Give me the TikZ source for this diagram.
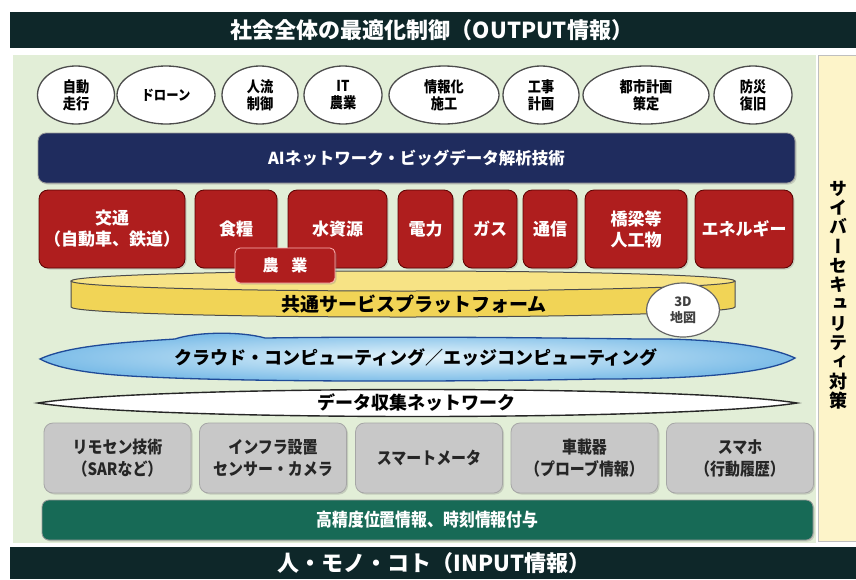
\documentclass[tikz,border=0pt]{standalone}
\usepackage{fontspec}
\setmainfont{Noto Sans CJK JP}
\newfontfamily\jpn{Noto Sans CJK JP}[FakeStretch=0.88]
\newfontfamily\jpv{Noto Sans CJK JP}[RawFeature=+vert]
\usetikzlibrary{shapes.geometric,shadows}
\definecolor{barc}{HTML}{0E2729}
\definecolor{panel}{HTML}{E2EED7}
\definecolor{cream}{HTML}{FDF4C9}
\definecolor{navy}{HTML}{1F2C5E}
\definecolor{redc}{HTML}{AF1E1E}
\definecolor{grayc}{HTML}{C8C8C8}
\definecolor{tealc}{HTML}{176A56}
\definecolor{yel}{HTML}{F1D456}
\definecolor{yeltop}{HTML}{F7E385}
\definecolor{cloudin}{HTML}{E4F4FB}
\definecolor{cloudout}{HTML}{7DBDE8}
\definecolor{cloudedge}{HTML}{1F4A98}
\tikzset{
  oval/.style={ellipse, draw=black!70, line width=1.3pt, fill=white, inner sep=0pt,
    font=\jpn\bfseries\fontsize{15}{17}\selectfont, align=center, minimum height=58pt},
  redbox/.style={rectangle, rounded corners=9pt, fill=redc, draw=red!35!black, line width=0.8pt,
    text=white, font=\bfseries\fontsize{17}{21}\selectfont, align=center,
    minimum height=78pt, inner sep=0pt,
    drop shadow={shadow xshift=1.5pt, shadow yshift=-1.5pt, opacity=0.3}},
  graybox/.style={rectangle, rounded corners=9pt, fill=grayc, draw=black!35, line width=0.8pt,
    text=black!85, font=\jpn\bfseries\fontsize{17}{22}\selectfont, align=center,
    minimum height=70pt, minimum width=147pt, inner sep=0pt,
    drop shadow={shadow xshift=1.5pt, shadow yshift=-1.5pt, opacity=0.3}},
  bartext/.style={text=white, font=\bfseries\fontsize{22}{24}\selectfont},
  plaintext/.style={text=black, font=\bfseries\fontsize{18}{20}\selectfont},
}
\begin{document}
\begin{tikzpicture}[x=1pt,y=-1pt]
\useasboundingbox (0,0) rectangle (856,579);
\fill[white] (0,0) rectangle (856,579);
% bars
\fill[barc] (10,12) rectangle (856,48);
\node[bartext] (top) at (432,30) {社会全体の最適化制御（OUTPUT情報）};
\fill[barc] (10,547) rectangle (856,579);
\node[bartext] (bottom) at (434,563) {人・モノ・コト（INPUT情報）};
% panels
\fill[panel] (13,55) rectangle (816,543);
\filldraw[fill=cream, draw=black!25] (818,55) rectangle (860,541);
\node[font=\jpv\bfseries\fontsize{18}{19.3}\selectfont, align=center, inner sep=0pt] (cyber) at (838,295)
  {サ\\イ\\バ\\ー\\セ\\キ\\ュ\\リ\\テ\\ィ\\対\\策};
% ovals
\node[oval, minimum width=77pt] (o1) at (76,95) {自動\\走行};
\node[oval, minimum width=98pt, font=\jpn\bfseries\fontsize{14}{15}\selectfont] (o2) at (166,95) {ドローン};
\node[oval, minimum width=76pt] (o3) at (260,95) {人流\\制御};
\node[oval, minimum width=78pt] (o4) at (343,95) {IT\\農業};
\node[oval, minimum width=110pt] (o5) at (444,95) {情報化\\施工};
\node[oval, minimum width=76pt] (o6) at (541,95) {工事\\計画};
\node[oval, minimum width=126pt] (o7) at (646,95) {都市計画\\策定};
\node[oval, minimum width=78pt] (o8) at (753,95) {防災\\復旧};
% AI bar
\node[rectangle, rounded corners=8pt, fill=navy, draw=black!40, line width=0.8pt,
  minimum width=757pt, minimum height=50pt, text=white,
  font=\bfseries\fontsize{16.5}{18}\selectfont,
  drop shadow={shadow xshift=1.5pt, shadow yshift=-1.5pt, opacity=0.3}] (ai) at (416.5,158)
  {AIネットワーク・ビッグデータ解析技術};
% cylinder
\fill[yel] (71,281) rectangle (735,307);
\fill[yel] (403,307) ellipse [x radius=332, y radius=10];
\draw[black!70, line width=1pt] (71,281) -- (71,307) arc[start angle=180, end angle=0, x radius=332, y radius=10] -- (735,281);
\filldraw[fill=yeltop, draw=black!70, line width=1pt] (403,281) ellipse [x radius=332, y radius=10];
\node[plaintext, font=\bfseries\fontsize{19}{21}\selectfont] (platform) at (414,304) {共通サービスプラットフォーム};
\node[ellipse, draw=black!60, line width=1.2pt, fill=white, minimum width=73pt, minimum height=54pt,
  inner sep=0pt, align=center, text=black!75, font=\bfseries\fontsize{13}{16}\selectfont] (map3d) at (683,310) {3D\\地図};
% red boxes
\node[redbox, minimum width=146pt] (r1) at (112,229) {交通\\（自動車、鉄道）};
\node[redbox, minimum width=82pt] (r2) at (236,229) {食糧};
\node[redbox, minimum width=99pt] (r3) at (337.5,229) {水資源};
\node[redbox, minimum width=55pt] (r4) at (425.5,229) {電力};
\node[redbox, minimum width=54pt] (r5) at (490,229) {ガス};
\node[redbox, minimum width=54pt] (r6) at (550,229) {通信};
\node[redbox, minimum width=102pt] (r7) at (636,229) {橋梁等\\人工物};
\node[redbox, minimum width=98pt] (r8) at (744,229) {エネルギー};
\node[redbox, rounded corners=5pt, draw=red!30!white, minimum width=100pt, minimum height=35pt,
  font=\bfseries\fontsize{16}{18}\selectfont] (nogyo) at (285,265.5) {農\hspace{0.8em}業};
% cloud
\def\cloudpath{(40,359) .. controls (70,345) and (130,342) .. (175,339)
  .. controls (195,332) and (240,331) .. (265,338)
  .. controls (400,336) and (560,338) .. (640,339)
  .. controls (700,338) and (765,344) .. (795,358)
  .. controls (770,373) and (700,379) .. (600,379)
  .. controls (450,382) and (250,382) .. (150,377)
  .. controls (100,375) and (60,370) .. (40,359) -- cycle}
\shade[inner color=cloudin, outer color=cloudout] \cloudpath;
\draw[cloudedge, line width=1.3pt] \cloudpath;
\node[plaintext] (cloud) at (416,358) {クラウド・コンピューティング／エッジコンピューティング};
% data network lens
\filldraw[fill=white, draw=black!85, line width=1.4pt] (38,403) .. controls (150,385) and (685,385) .. (797,403)
  .. controls (685,421) and (150,421) .. (38,403) -- cycle;
\node[plaintext] (datanet) at (416,403) {データ収集ネットワーク};
% gray boxes
\node[graybox] (g1) at (117.5,458) {リモセン技術\\（SARなど）};
\node[graybox] (g2) at (273,458) {インフラ設置\\センサー・カメラ};
\node[graybox] (g3) at (429,458) {スマートメータ};
\node[graybox] (g4) at (584.5,458) {車載器\\（プローブ情報）};
\node[graybox] (g5) at (740,458) {スマホ\\（行動履歴）};
% teal bar
\node[rectangle, rounded corners=7pt, fill=tealc, draw=black!40, line width=0.8pt,
  minimum width=771pt, minimum height=40pt, text=white,
  font=\jpn\bfseries\fontsize{18}{20}\selectfont,
  drop shadow={shadow xshift=1.5pt, shadow yshift=-1.5pt, opacity=0.3}] (gps) at (427.5,520)
  {高精度位置情報、時刻情報付与};
\end{tikzpicture}
\end{document}
